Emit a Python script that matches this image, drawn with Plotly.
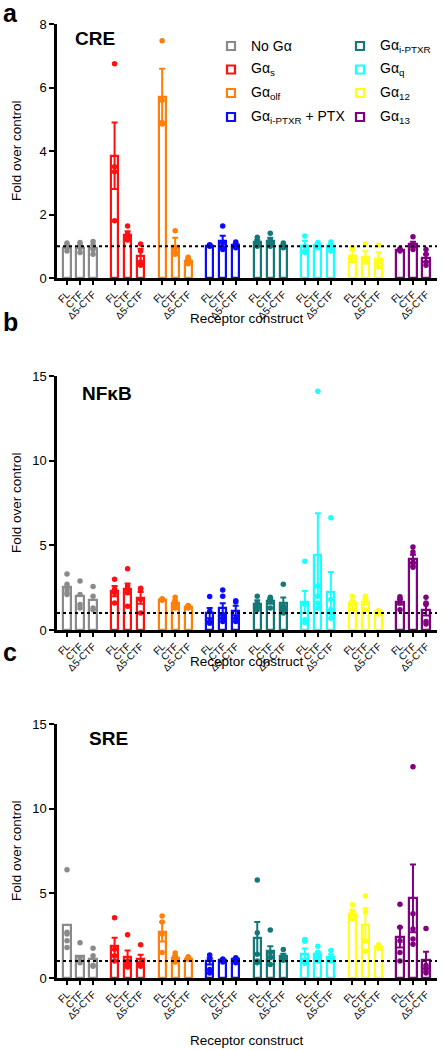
import plotly.graph_objects as go

# ---------------- data ----------------
groups = ["No Gα", "Gα<sub>s</sub>", "Gα<sub>olf</sub>", "Gα<sub>i-PTXR</sub> + PTX",
          "Gα<sub>i-PTXR</sub>", "Gα<sub>q</sub>", "Gα<sub>12</sub>", "Gα<sub>13</sub>"]
colors = ["#8a8a8a", "#ff1010", "#ff7f0a", "#0a0aff", "#147878", "#1affff", "#ffff1a", "#800080"]
constructs = ["FL", "CTF", "Δ5-CTF"]
show_err = [False, True, True, True, True, True, True, True]

cre_mean = [[0.95, 0.96, 0.95], [3.85, 1.37, 0.70], [5.71, 1.00, 0.55], [1.02, 1.15, 1.03],
            [1.12, 1.17, 1.02], [1.00, 1.05, 1.00], [0.68, 0.66, 0.60], [0.88, 1.06, 0.63]]
cre_sem = [[0.05, 0.05, 0.07], [1.05, 0.10, 0.22], [0.88, 0.27, 0.05], [0.03, 0.18, 0.05],
           [0.08, 0.10, 0.03], [0.17, 0.05, 0.08], [0.18, 0.18, 0.21], [0.02, 0.08, 0.12]]
cre_pts = [[[0.85, 0.95, 1.05, 1.10], [0.80, 0.95, 1.05, 1.12], [0.75, 0.90, 1.05, 1.15]],
           [[6.75, 3.50, 3.35, 1.80], [1.64, 1.40, 1.30, 1.20], [1.07, 0.85, 0.50, 0.40]],
           [[7.47, 5.60, 4.90, 4.85], [1.49, 0.95, 0.80, 0.75], [0.65, 0.60, 0.50, 0.45]],
           [[1.05, 1.02, 1.00], [1.64, 1.10, 0.95, 0.90], [1.13, 1.05, 0.95]],
           [[1.28, 1.12, 1.00, 1.05], [1.41, 1.20, 1.00, 1.10], [1.10, 1.00, 0.95]],
           [[1.32, 1.00, 0.80, 0.85], [1.12, 1.05, 0.95], [1.13, 1.00, 0.85]],
           [[0.95, 0.68, 0.55, 0.62], [1.07, 0.60, 0.50, 0.55], [1.04, 0.50, 0.35, 0.50]],
           [[0.92, 0.85, 0.88], [1.30, 1.05, 0.90, 1.00], [0.90, 0.75, 0.50, 0.40]]]

nfkb_mean = [[2.55, 2.00, 1.78], [2.30, 2.45, 1.90], [1.80, 1.60, 1.38], [1.00, 1.28, 1.15],
             [1.55, 1.70, 1.60], [1.65, 4.45, 2.27], [1.60, 1.65, 1.05], [1.65, 4.20, 1.20]]
nfkb_sem = [[0.25, 0.35, 0.30], [0.30, 0.30, 0.35], [0.04, 0.15, 0.05], [0.30, 0.30, 0.28],
            [0.20, 0.15, 0.32], [0.65, 2.45, 1.15], [0.15, 0.15, 0.05], [0.15, 0.25, 0.35]]
nfkb_pts = [[[3.30, 2.70, 2.20, 2.10, 2.40], [2.90, 2.10, 1.50, 1.30], [2.57, 2.00, 1.30, 1.20]],
            [[3.00, 2.40, 1.60, 2.20], [3.62, 2.60, 2.20, 1.40, 2.40], [2.47, 2.40, 1.80, 1.00]],
            [[1.85, 1.80, 1.75], [1.94, 1.70, 1.30, 1.50], [1.45, 1.35, 1.30]],
            [[1.98, 1.10, 0.50, 0.40], [2.36, 2.00, 0.90, 0.50, 0.70], [1.72, 1.65, 0.70, 0.50]],
            [[1.99, 1.60, 1.20, 1.40], [1.93, 1.85, 1.70, 1.30], [2.70, 1.40, 1.20, 1.00]],
            [[4.06, 1.50, 0.60, 0.45], [14.10, 2.60, 2.00, 1.60, 1.30], [6.63, 1.80, 1.00, 0.70, 1.20]],
            [[2.00, 1.70, 1.50, 1.20], [2.00, 1.80, 1.60, 1.20], [1.15, 1.05, 0.95]],
            [[1.97, 1.85, 1.60, 1.20], [4.90, 4.60, 4.00, 3.80, 3.70], [1.93, 1.60, 0.50, 0.35, 1.50]]]

sre_mean = [[3.15, 1.30, 1.13], [1.88, 1.25, 1.10], [2.73, 1.20, 1.15], [1.00, 1.05, 1.10],
            [2.35, 1.58, 1.28], [1.44, 1.40, 1.25], [3.78, 3.12, 1.84], [2.40, 4.70, 1.05]]
sre_sem = [[0.90, 0.25, 0.25], [0.50, 0.37, 0.28], [0.58, 0.10, 0.05], [0.20, 0.05, 0.08],
           [0.95, 0.30, 0.15], [0.30, 0.15, 0.15], [0.25, 1.00, 0.06], [0.60, 2.00, 0.50]]
sre_pts = [[[6.40, 2.60, 2.20, 1.80, 2.70], [2.08, 1.20, 1.00, 0.90], [1.76, 1.32, 0.75, 0.70]],
           [[3.56, 1.70, 1.30, 1.00], [2.55, 1.00, 0.80, 0.65], [1.96, 0.90, 0.85, 0.70]],
           [[3.66, 3.30, 2.60, 1.50], [1.48, 1.30, 1.10, 0.95], [1.25, 1.15, 1.10]],
           [[1.36, 1.10, 0.50, 0.30], [1.12, 1.05, 0.95], [1.20, 1.10, 0.90]],
           [[5.79, 2.67, 1.40, 1.00, 0.90], [2.83, 1.50, 1.20, 0.80], [1.68, 1.30, 1.10, 1.05]],
           [[2.27, 2.17, 1.00, 0.90, 0.85], [1.88, 1.50, 1.20, 1.00], [1.62, 1.20, 1.00, 1.05]],
           [[4.33, 3.90, 3.70, 3.60, 3.50], [4.84, 3.90, 2.20, 1.60], [1.96, 1.80, 1.75]],
           [[4.35, 3.00, 2.20, 1.50, 1.00], [12.48, 3.80, 2.90, 2.30, 2.00], [2.93, 0.60, 0.40, 0.30, 0.75]]]

panel_titles = ["CRE", "NFκB", "SRE"]
panel_letters = ["a", "b", "c"]
y_max = [8, 15, 15]
y_dtick = [2, 5, 5]
x_title = "Receptor construct"
y_title = "Fold over control"

# ---------------- layout helpers ----------------
W, H = 447, 1050
FONT = "Liberation Sans, Arial, Helvetica, sans-serif"
GROUP_STEP = 47.5 / 13.0
BAR_W = 0.55
panels = [(cre_mean, cre_sem, cre_pts), (nfkb_mean, nfkb_sem, nfkb_pts), (sre_mean, sre_sem, sre_pts)]
# pixel positions of each panel's y=0 and y=max
panel_px = [(278, 24), (630, 376), (978, 724)]
xtitle_px = [318, 661, 1040]
title_px = [(73, 38), (80, 393), (87, 738)]
letter_px = [13, 322, 652]

x_dom = [57 / W, 437 / W]
x_range = [-10 / 13.0, 7 * GROUP_STEP + 2 + 11 / 13.0]


def xpos(g, b):
    return g * GROUP_STEP + b


fig = go.Figure()
layout = dict(
    width=W, height=H, margin=dict(l=0, r=0, t=0, b=0, autoexpand=False),
    paper_bgcolor="white", plot_bgcolor="white", showlegend=False,
    font=dict(family=FONT, color="black", size=12),
    bargap=0, barmode="overlay",
)
annotations = []
shapes = []

tickvals = [xpos(g, b) for g in range(8) for b in range(3)]
ticktext = [constructs[b] for g in range(8) for b in range(3)]

for p, (means, sems, pts) in enumerate(panels):
    sfx = "" if p == 0 else str(p + 1)
    xa, ya = "x" + sfx, "y" + sfx
    for g in range(8):
        col = colors[g]
        xs = [xpos(g, b) for b in range(3)]
        fig.add_trace(go.Bar(
            x=xs, y=means[g], width=BAR_W, xaxis=xa, yaxis=ya,
            marker=dict(color="white", line=dict(color=col, width=2.2)),
            error_y=dict(type="data", array=sems[g], symmetric=True, color=col,
                         thickness=2, width=3, visible=show_err[g]),
        ))
        px_, py_ = [], []
        for b in range(3):
            for v in pts[g][b]:
                px_.append(xpos(g, b))
                py_.append(v)
        fig.add_trace(go.Scatter(
            x=px_, y=py_, mode="markers", xaxis=xa, yaxis=ya,
            marker=dict(color=col, size=5.5, line=dict(width=0)), cliponaxis=False,
        ))
    y0px, y1px = panel_px[p]
    layout["xaxis" + sfx] = dict(
        domain=x_dom, range=x_range, anchor=ya, showgrid=False, zeroline=False,
        showline=True, linewidth=2.5, linecolor="black", automargin=False,
        tickmode="array", tickvals=tickvals, ticktext=ticktext, tickangle=-45,
        ticks="outside", ticklen=4, tickwidth=2, tickcolor="black",
        tickfont=dict(size=10, family=FONT, color="black"),
    )
    layout["yaxis" + sfx] = dict(
        domain=[1 - y0px / H, 1 - y1px / H], range=[0, y_max[p]], anchor=xa,
        showgrid=False, zeroline=False, showline=True, linewidth=2.5, linecolor="black",
        automargin=False, tickmode="linear", tick0=0, dtick=y_dtick[p],
        ticks="outside", ticklen=5, tickwidth=2, tickcolor="black",
        tickfont=dict(size=13, family=FONT, color="black"),
    )
    shapes.append(dict(type="line", xref=xa, yref=ya, x0=x_range[0], x1=x_range[1], y0=1, y1=1,
                       line=dict(color="black", width=2, dash="dot"), layer="above"))
    annotations.append(dict(text=y_title, xref="paper", yref="paper", x=16 / W,
                            y=1 - (y0px + y1px) / 2 / H, textangle=-90, showarrow=False,
                            font=dict(size=13.5, family=FONT), xanchor="center", yanchor="middle"))
    annotations.append(dict(text=x_title, xref="paper", yref="paper", x=247 / W,
                            y=1 - xtitle_px[p] / H, showarrow=False,
                            font=dict(size=13.5, family=FONT), xanchor="center", yanchor="middle"))
    tx, ty = title_px[p]
    annotations.append(dict(text="<b>" + panel_titles[p] + "</b>", xref="paper", yref="paper",
                            x=tx / W, y=1 - ty / H, showarrow=False,
                            font=dict(size=19, family=FONT), xanchor="left", yanchor="middle"))
    annotations.append(dict(text="<b>" + panel_letters[p] + "</b>", xref="paper", yref="paper",
                            x=1 / W, y=1 - letter_px[p] / H, showarrow=False,
                            font=dict(size=25, family=FONT), xanchor="left", yanchor="middle"))

# legend (two columns)
leg_col_px = [231, 360]
leg_row_px = [46, 69.5, 93, 117]
for i, name in enumerate(groups):
    c, r = divmod(i, 4)
    cx, cy = leg_col_px[c] / W, 1 - leg_row_px[r] / H
    shapes.append(dict(type="rect", xref="paper", yref="paper", xsizemode="pixel", ysizemode="pixel",
                       xanchor=cx, yanchor=cy, x0=-4, x1=4, y0=-4, y1=4,
                       line=dict(color=colors[i], width=2.2), fillcolor="white"))
    annotations.append(dict(text=name, xref="paper", yref="paper", x=(leg_col_px[c] + 18) / W,
                            y=cy, showarrow=False, xanchor="left", yanchor="middle",
                            font=dict(size=14, family=FONT)))

layout["annotations"] = annotations
layout["shapes"] = shapes
fig.update_layout(**layout)
fig.write_html("out.html", config={"displayModeBar": False},
               post_script="document.body.style.margin='0';document.body.style.padding='0';")
